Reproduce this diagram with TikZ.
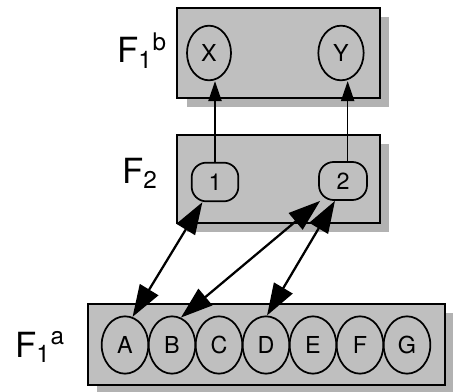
\documentclass[tikz,border=0pt]{standalone}
\usepackage{fontspec}
\setmainfont{TeX Gyre Heros}
\usetikzlibrary{positioning, arrows.meta, shapes.geometric, shadows}

\begin{document}
\begin{tikzpicture}[x=0.75pt, y=-0.75pt,
        layer/.style={rectangle, draw, line width=1.5pt, fill=gray!50, inner sep=0pt,
            drop shadow={shadow xshift=7pt, shadow yshift=-7pt, fill=gray!60, opacity=1}},
        cell/.style={ellipse, draw, line width=1.3pt, inner sep=0pt, minimum width=35pt, minimum height=43pt,
            font=\fontsize{17.5}{20}\selectfont},
        unit/.style={rectangle, rounded corners=11pt, draw, line width=1.3pt, inner sep=0pt,
            minimum width=35pt, minimum height=29pt, font=\fontsize{17.5}{20}\selectfont},
        layername/.style={anchor=base west, inner sep=0pt, font=\fontsize{26}{30}\selectfont},
        tipup/.tip={Triangle[length=15pt, width=10pt]},
        tiplink/.tip={Triangle[length=24pt, width=16pt]},
        up/.style={-tipup, line width=1.1pt},
        link/.style={tiplink-tiplink, line width=1.7pt}
    ]
        \useasboundingbox (0,0) rectangle (453,392);

        % Layers
        \node[layer, minimum width=152pt, minimum height=67.5pt] (f1b) at (278.5,53) {};
        \node[layer, minimum width=152pt, minimum height=66pt] (f2) at (278.5,179) {};
        \node[layer, minimum width=268pt, minimum height=61pt] (f1a) at (266.5,344.5) {};

        % Layer names
        \node[layername] (lf1b) at (117,63) {F\textsubscript{1}\textsuperscript{b}};
        \node[layername] (lf2) at (122,183) {F\textsubscript{2}};
        \node[layername] (lf1a) at (15,357) {F\textsubscript{1}\textsuperscript{a}};

        % F1b units
        \node[cell, minimum width=33pt, minimum height=41pt] (cX) at (209,53) {X};
        \node[cell, minimum width=34pt, minimum height=41pt] (cY) at (341,53) {Y};

        % F2 units
        \node[unit] (n1) at (215,182) {1};
        \node[unit, minimum width=36pt, minimum height=28.5pt] (n2) at (343,181) {2};

        % F1a units
        \foreach \l [count=\i] in {A,B,C,D,E,F,G}
            \node[cell] (c\l) at ({78+47*\i},345) {\l};

        % Connections
        \draw[up] (n1.north) -- (n1.north |- cX.south);
        \draw[up] ([xshift=3.5pt]n2.north) -- ([xshift=3.5pt]n2.north |- cY.south);
        \draw[link] (n1.238) -- (cA.75);
        \draw[link] (n2.221) -- (cB.72);
        \draw[link] (n2.248) -- (cD.88);
    \end{tikzpicture}
\end{document}
